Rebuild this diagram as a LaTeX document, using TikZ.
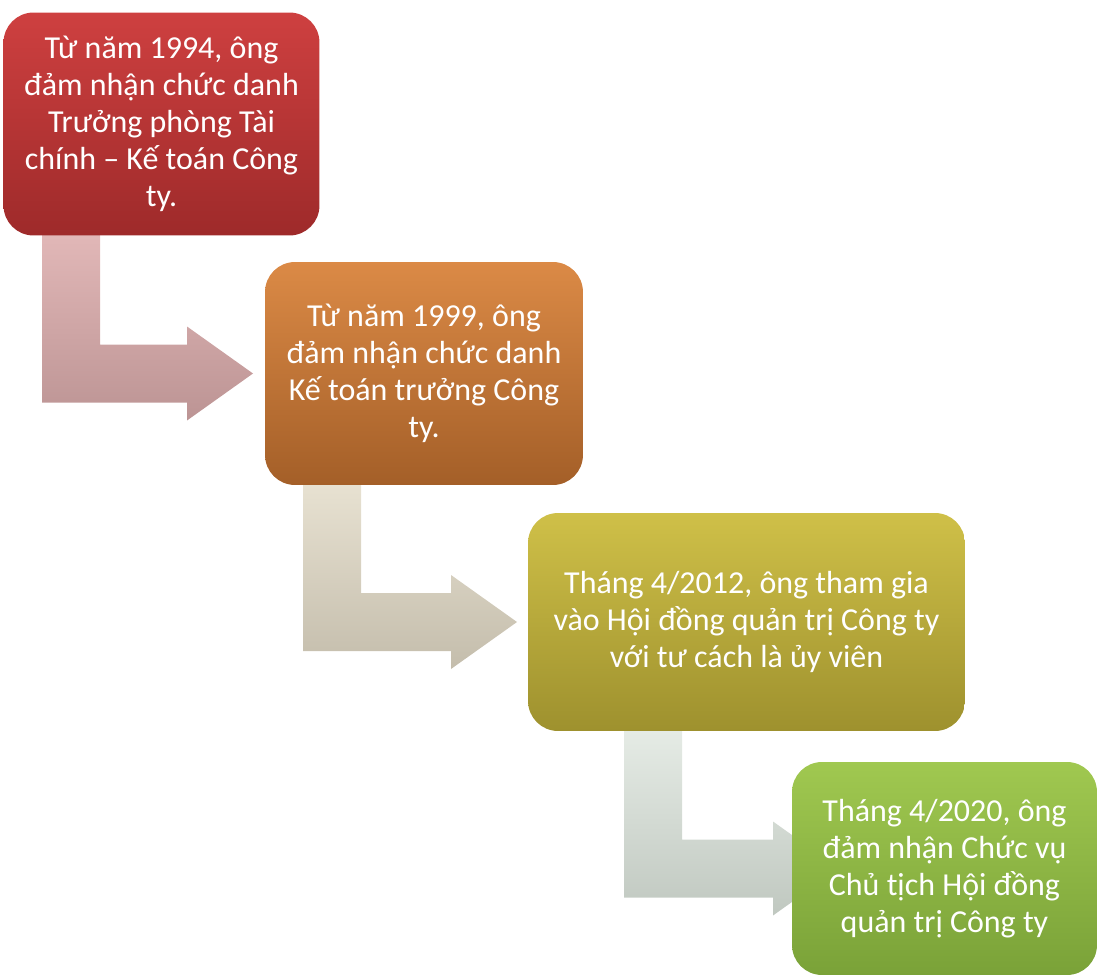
\documentclass[tikz,border=0pt]{standalone}
\usepackage{fontspec}
\setmainfont{Carlito}
\usepackage{xcolor}
\usetikzlibrary{calc, backgrounds}

\definecolor{redT}{HTML}{CE4040}
\definecolor{redB}{HTML}{9E2A2A}
\definecolor{orT}{HTML}{DB8A46}
\definecolor{orB}{HTML}{A45F28}
\definecolor{olT}{HTML}{CFC048}
\definecolor{olB}{HTML}{9E912E}
\definecolor{grT}{HTML}{A0C850}
\definecolor{grB}{HTML}{7AA238}
\definecolor{arrAT}{HTML}{E2B8B8}
\definecolor{arrAB}{HTML}{BC9494}
\definecolor{arrBT}{HTML}{E8E2D2}
\definecolor{arrBB}{HTML}{C4BDAC}
\definecolor{arrCT}{HTML}{E6ECE6}
\definecolor{arrCB}{HTML}{C0C8C0}

\begin{document}
\begin{tikzpicture}[
      x=0.02cm, y=-0.02cm,
      box/.style={rounded corners=0.6cm, text=white, align=center,
        inner sep=0pt, font=\fontsize{18.2}{21.1}\selectfont},
      arrA/.style={top color=arrAT, bottom color=arrAB},
      arrB/.style={top color=arrBT, bottom color=arrBB},
      arrC/.style={top color=arrCT, bottom color=arrCB}
    ]
    \useasboundingbox (0,0) rectangle (1100,980);

    \node[box, top color=redT, bottom color=redB, minimum width=6.32cm,
      minimum height=4.46cm] (b1) at (161.5,124)
      {Từ năm 1994, ông\\đảm nhận chức danh\\Trưởng phòng Tài\\chính – Kế toán Công\\ty.};
    \node[box, top color=orT, bottom color=orB, minimum width=6.36cm,
      minimum height=4.46cm] (b2) at (424,373.5)
      {Từ năm 1999, ông\\đảm nhận chức danh\\Kế toán trưởng Công\\ty.};
    \node[box, top color=olT, bottom color=olB, minimum width=8.74cm,
      minimum height=4.36cm] (b3) at (746.5,622)
      {Tháng 4/2012, ông tham gia\\vào Hội đồng quản trị Công ty\\với tư cách là ủy viên};
    \node[box, top color=grT, bottom color=grB, minimum width=6.1cm,
      minimum height=4.26cm] (b4) at (944.5,868.5)
      {Tháng 4/2020, ông\\đảm nhận Chức vụ\\Chủ tịch Hội đồng\\quản trị Công ty};

    % bent arrows between the boxes
    \begin{scope}[on background layer]
      \foreach \from/\to/\xl/\xh/\shd in {b1/b2/42/187/arrA, b2/b3/303/451/arrB,
          b3/b4/624/773/arrC}{
        \shade[\shd] ($(\xl,0 |- \from.south)+(0,-5)$)
          -- ($(\xl,0 |- \to.west)+(0,29)$)
          -- ($(\xh,0 |- \to.west)+(0,29)$)
          -- ($(\xh,0 |- \to.west)+(0,47)$)
          -- ($(\xh,0 |- \to.west)+(66,0)$)
          -- ($(\xh,0 |- \to.west)+(0,-47)$)
          -- ($(\xh,0 |- \to.west)+(0,-29)$)
          -- ($(\xl,0 |- \to.west)+(58,-29)$)
          -- ($(\xl,0 |- \from.south)+(58,-5)$) -- cycle;
      }
    \end{scope}
  \end{tikzpicture}
\end{document}
